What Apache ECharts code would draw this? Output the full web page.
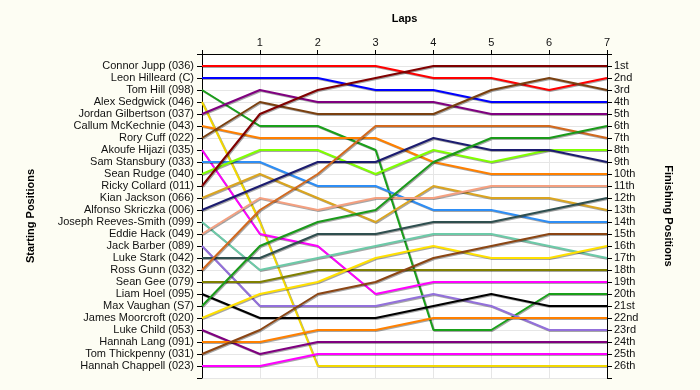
<!DOCTYPE html>
<html>
<head>
<meta charset="utf-8">
<script src="https://cdn.jsdelivr.net/npm/echarts@6/dist/echarts.min.js"></script>
<style>
html,body{margin:0;padding:0;background:#fdfdf3;}
#chart{width:700px;height:390px;}
</style>
</head>
<body>
<div id="chart"></div>
<script>
// Lap numbers (x values)
var laps = [0, 1, 2, 3, 4, 5, 6, 7];

// Drivers in starting order (left-axis labels)
var drivers = [
  'Connor Jupp (036)', 'Leon Hilleard (C)', 'Tom Hill (098)', 'Alex Sedgwick (046)',
  'Jordan Gilbertson (037)', 'Callum McKechnie (043)', 'Rory Cuff (022)', 'Akoufe Hijazi (035)',
  'Sam Stansbury (033)', 'Sean Rudge (040)', 'Ricky Collard (011)', 'Kian Jackson (066)',
  'Alfonso Skriczka (006)', 'Joseph Reeves-Smith (099)', 'Eddie Hack (049)', 'Jack Barber (089)',
  'Luke Stark (042)', 'Ross Gunn (032)', 'Sean Gee (079)', 'Liam Hoel (095)',
  'Max Vaughan (S7)', 'James Moorcroft (020)', 'Luke Child (053)', 'Hannah Lang (091)',
  'Tom Thickpenny (031)', 'Hannah Chappell (023)'
];

// Finishing position labels (right axis)
var finishLabels = [
  '1st','2nd','3rd','4th','5th','6th','7th','8th','9th','10th','11th','12th','13th',
  '14th','15th','16th','17th','18th','19th','20th','21st','22nd','23rd','24th','25th','26th'
];

// Position of each driver at laps 0..7
var posConnorJupp       = [1, 1, 1, 1, 2, 2, 3, 2];
var posLeonHilleard     = [2, 2, 2, 3, 3, 4, 4, 4];
var posTomHill          = [3, 6, 6, 8, 23, 23, 20, 20];
var posAlexSedgwick     = [4, 14, 26, 26, 26, 26, 26, 26];
var posJordanGilbertson = [5, 3, 4, 4, 4, 5, 5, 5];
var posCallumMcKechnie  = [6, 7, 7, 7, 9, 10, 10, 10];
var posRoryCuff         = [7, 4, 5, 5, 5, 3, 2, 3];
var posAkoufeHijazi     = [8, 15, 16, 20, 19, 19, 19, 19];
var posSamStansbury     = [9, 9, 11, 11, 13, 13, 14, 14];
var posSeanRudge        = [10, 8, 8, 10, 8, 9, 8, 8];
var posRickyCollard     = [11, 5, 3, 2, 1, 1, 1, 1];
var posKianJackson      = [12, 10, 12, 14, 11, 12, 12, 13];
var posAlfonsoSkriczka  = [13, 11, 9, 9, 7, 8, 8, 9];
var posJosephReeves     = [14, 18, 17, 16, 15, 15, 16, 17];
var posEddieHack        = [15, 12, 13, 12, 12, 11, 11, 11];
var posJackBarber       = [16, 21, 21, 21, 20, 21, 23, 23];
var posLukeStark        = [17, 17, 15, 15, 14, 14, 13, 12];
var posRossGunn         = [18, 13, 10, 6, 6, 6, 6, 7];
var posSeanGee          = [19, 19, 18, 18, 18, 18, 18, 18];
var posLiamHoel         = [20, 22, 22, 22, 21, 20, 21, 21];
var posMaxVaughan       = [21, 16, 14, 13, 9, 7, 7, 6];
var posJamesMoorcroft   = [22, 20, 19, 17, 16, 17, 17, 16];
var posLukeChild        = [23, 25, 24, 24, 24, 24, 24, 24];
var posHannahLang       = [24, 24, 23, 23, 22, 22, 22, 22];
var posTomThickpenny    = [25, 23, 20, 19, 17, 16, 15, 15];
var posHannahChappell   = [26, 26, 25, 25, 25, 25, 25, 25];

var positions = [
  posConnorJupp, posLeonHilleard, posTomHill, posAlexSedgwick, posJordanGilbertson,
  posCallumMcKechnie, posRoryCuff, posAkoufeHijazi, posSamStansbury, posSeanRudge,
  posRickyCollard, posKianJackson, posAlfonsoSkriczka, posJosephReeves, posEddieHack,
  posJackBarber, posLukeStark, posRossGunn, posSeanGee, posLiamHoel, posMaxVaughan,
  posJamesMoorcroft, posLukeChild, posHannahLang, posTomThickpenny, posHannahChappell
];

var colors = [
  '#ff0000', '#0000ff', '#1aa01a', '#f2d800', '#800080', '#ff8000', '#7a4010', '#ff00ff',
  '#2e8ef5', '#80ff00', '#800000', '#daa520', '#1c1c70', '#6ccaa8', '#f4a080', '#9370db',
  '#2f4f4f', '#d2691e', '#808000', '#000000', '#1a9a1a', '#ffe000', '#800080', '#ff8000',
  '#8b4513', '#ff00ff'
];

var series = drivers.map(function (name, i) {
  return {
    name: name,
    type: 'line',
    symbol: 'none',
    xAxisIndex: 0,
    yAxisIndex: 0,
    data: laps.map(function (l, k) { return [l, positions[i][k]]; }),
    lineStyle: {
      width: 2,
      color: colors[i],
      shadowColor: 'rgba(0,0,0,0.35)',
      shadowBlur: 0,
      shadowOffsetX: 1,
      shadowOffsetY: 1
    },
    emphasis: { disabled: true },
    z: 2
  };
});

var labelFont = { fontFamily: 'Arial, "Liberation Sans", sans-serif', fontSize: 11, color: '#111' };
var titleFont = { fontFamily: 'Arial, "Liberation Sans", sans-serif', fontSize: 11, fontWeight: 'bold', color: '#000' };

var chart = echarts.init(document.getElementById('chart'), null, { renderer: 'canvas' });
chart.setOption({
  backgroundColor: '#fdfdf3',
  animation: false,
  grid: { left: 202, right: 93, top: 54, bottom: 12, show: true, backgroundColor: '#ffffff', borderWidth: 0 },
  xAxis: {
    type: 'value', position: 'top', min: 0, max: 7, interval: 1,
    name: 'Laps', nameLocation: 'middle', nameGap: 30, nameTextStyle: titleFont,
    axisLine: { show: true, lineStyle: { color: '#000', width: 1 } },
    axisTick: { show: true, length: 4, lineStyle: { color: '#000' } },
    axisLabel: Object.assign({ margin: 6, formatter: function (v) { return v === 0 ? '' : String(v); } }, labelFont),
    splitLine: { show: true, lineStyle: { color: '#e6e6e6', width: 1 } }
  },
  yAxis: [
    {
      type: 'value', inverse: true, min: 0, max: 27, interval: 1, position: 'left',
      name: 'Starting Positions', nameLocation: 'middle', nameGap: 166, nameRotate: 90, nameTextStyle: titleFont,
      axisLine: { show: true, lineStyle: { color: '#000', width: 1 } },
      axisTick: { show: true, length: 5, lineStyle: { color: '#000' } },
      axisLabel: Object.assign({ margin: 8, formatter: function (v) { return drivers[v - 1] || ''; } }, labelFont),
      splitLine: { show: true, lineStyle: { color: '#e6e6e6', width: 1 } }
    },
    {
      type: 'value', inverse: true, min: 0, max: 27, interval: 1, position: 'right',
      name: 'Finishing Positions', nameLocation: 'middle', nameGap: 56, nameRotate: -90, nameTextStyle: titleFont,
      axisLine: { show: true, lineStyle: { color: '#000', width: 1 } },
      axisTick: { show: true, length: 5, lineStyle: { color: '#000' } },
      axisLabel: Object.assign({ margin: 7, formatter: function (v) { return finishLabels[v - 1] || ''; } }, labelFont),
      splitLine: { show: false }
    }
  ],
  series: series
});
</script>
</body>
</html>
